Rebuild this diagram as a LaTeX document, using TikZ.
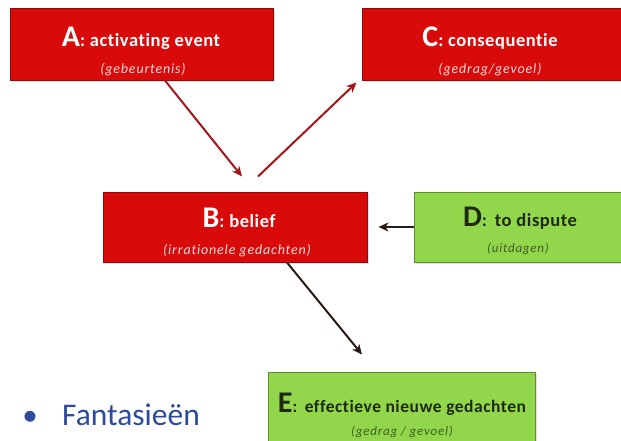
\documentclass[tikz,border=0pt]{standalone}
\usepackage{fontspec}
\setmainfont{Carlito}[Ligatures=NoCommon]
\usetikzlibrary{arrows.meta,shadows}
\definecolor{boxred}{HTML}{D90A0A}
\definecolor{boxredline}{HTML}{8E0B0B}
\definecolor{boxgreen}{HTML}{92D64C}
\definecolor{boxgreenline}{HTML}{5E8E2E}
\definecolor{arrred}{HTML}{A4161A}
\definecolor{arrdark}{HTML}{2A1A14}
\definecolor{greentext}{HTML}{1E2A10}
\definecolor{bulletblue}{HTML}{2D4A9C}
\tikzset{
  redbox/.style={draw=boxredline, fill=boxred, line width=1pt, text=white,
    drop shadow={shadow xshift=1.5pt, shadow yshift=-1.5pt, opacity=0.25},
    inner sep=0pt, align=center},
  greenbox/.style={draw=boxgreenline, fill=boxgreen, line width=1pt, text=greentext,
    drop shadow={shadow xshift=1.5pt, shadow yshift=-1.5pt, opacity=0.25},
    inner sep=0pt, align=center},
  redarrow/.style={draw=arrred, line width=2pt, -{Stealth[length=10pt,width=9pt,inset=3pt]}},
  darkarrow/.style={draw=arrdark, line width=2pt, -{Stealth[length=10pt,width=9pt,inset=3pt]}},
}
% title: large initial, then the label; subtitle: italic line below
\newcommand{\boxtitle}[3][18.5]{{\fontsize{30}{30}\selectfont\bfseries #2}{\fontsize{#1}{#1}\selectfont\bfseries\addfontfeatures{LetterSpace=3}: #3}}
\newcommand{\boxsub}[2][14]{{\fontsize{#1}{#1}\selectfont\itshape\addfontfeatures{LetterSpace=6}#2}}
\begin{document}
\begin{tikzpicture}[x=1pt,y=-1pt]
  \useasboundingbox[fill=white] (0,0) rectangle (621,440);

  % boxes
  \node[redbox, minimum width=263pt, minimum height=72pt] (A) at (141.5,44) {};
  \node[redbox, minimum width=262pt, minimum height=72pt] (C) at (493,44) {};
  \node[redbox, minimum width=264pt, minimum height=70pt] (B) at (235,227) {};
  \node[greenbox, minimum width=208pt, minimum height=70pt] (D) at (518,227) {};
  \node[greenbox, minimum width=267pt, minimum height=70pt] (E) at (401.5,407) {};

  % box texts
  \node[text=white, anchor=base] (At) at (141,46) {\boxtitle{A}{activating event}};
  \node[text=white!85!red, anchor=base] (As) at (143,73) {\boxsub{(gebeurtenis)}};
  \node[text=white, anchor=base] (Ct) at (490,46) {\boxtitle{C}{consequentie}};
  \node[text=white!85!red, anchor=base] (Cs) at (490,73) {\boxsub{(gedrag/gevoel)}};
  \node[text=white, anchor=base] (Bt) at (239,227) {\boxtitle{B}{belief}};
  \node[text=white!85!red, anchor=base] (Bs) at (237,254) {\boxsub{(irrationele gedachten)}};
  \node[text=greentext, anchor=base] (Dt) at (520,226) {\boxtitle{D}{\,to dispute}};
  \node[text=greentext!70!boxgreen, anchor=base] (Ds) at (518,252) {\boxsub[13]{(uitdagen)}};
  \node[text=greentext, anchor=base] (Et) at (402,412) {\boxtitle[17.5]{E}{\,effectieve nieuwe gedachten}};
  \node[text=greentext!70!boxgreen, anchor=base] (Es) at (402,435) {\boxsub[13]{(gedrag / gevoel)}};

  % connectors
  \draw[redarrow] ([xshift=23.5pt]A.south) -- ([xshift=7pt,yshift=15pt]B.north);
  \draw[redarrow] ([xshift=23pt,yshift=15pt]B.north) -- ([xshift=-5pt,yshift=-2pt]C.south west);
  \draw[darkarrow] (D.west) -- ([xshift=11pt]B.east);
  \draw[darkarrow] ([xshift=52pt]B.south) -- ([xshift=-39.5pt,yshift=17pt]E.north);

  % bullet line
  \node[text=bulletblue, anchor=base, font=\fontsize{31}{31}\selectfont] (bul) at (30,425) {•};
  \node[text=bulletblue, anchor=base west, font=\fontsize{31.5}{31.5}\selectfont, inner sep=0pt] (fan) at (62,425) {Fantasieën};
\end{tikzpicture}
\end{document}
